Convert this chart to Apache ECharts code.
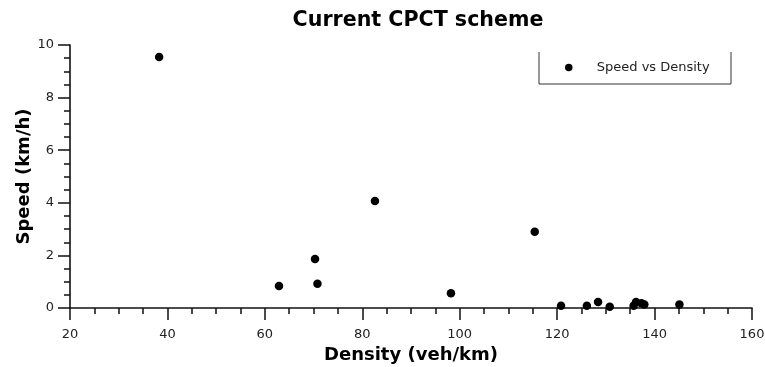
<!DOCTYPE html>
<html>
<head>
<meta charset="utf-8">
<script src="https://cdn.jsdelivr.net/npm/echarts@6/dist/echarts.min.js"></script>
<style>html,body{margin:0;padding:0;background:#fff;}#c{width:765px;height:367px;}</style>
</head>
<body>
<div id="c"></div>
<script>
const titleText = 'Current CPCT scheme';
const seriesName = 'Speed vs Density';
const xName = 'Density (veh/km)';
const yName = 'Speed (km/h)';
const density = [38.3, 62.9, 70.3, 70.8, 82.6, 98.2, 115.4, 120.8, 126.1, 128.4, 130.8, 135.7, 136.2, 137.3, 137.9, 145.1];
const speed   = [9.54, 0.84, 1.86, 0.92, 4.07, 0.56, 2.90, 0.09, 0.09, 0.23, 0.05, 0.09, 0.23, 0.18, 0.13, 0.13];

const points = density.map((d, i) => [d, speed[i]]);
const FONT = 'DejaVu Sans';
const axisColor = '#111';

const chart = echarts.init(document.getElementById('c'), null, {renderer: 'canvas'});
chart.setOption({
  animation: false,
  backgroundColor: '#fff',
  title: {
    text: titleText,
    left: 413, top: 5, textAlign: 'center',
    textStyle: {fontFamily: FONT, fontWeight: 'bold', fontSize: 20.6, color: '#000'}
  },
  legend: {
    data: [seriesName],
    left: 560, top: 56,
    icon: 'circle',
    itemWidth: 46, itemHeight: 7.5,
    itemStyle: {color: '#000', opacity: 1},
    textStyle: {fontFamily: FONT, fontSize: 13, color: '#222'}
  },
  graphic: [{
    type: 'polyline',
    shape: {points: [[539, 52], [539, 84], [731, 84], [731, 52]]},
    style: {stroke: '#333', lineWidth: 1, fill: null},
    silent: true
  }],
  grid: {left: 70, right: 13, top: 45, bottom: 59, containLabel: false, outerBoundsMode: 'none'},
  xAxis: {
    type: 'value', min: 20, max: 160, interval: 20,
    name: xName, nameLocation: 'middle', nameGap: 38, nameMoveOverlap: false,
    nameTextStyle: {fontFamily: FONT, fontWeight: 'bold', fontSize: 18, color: '#000'},
    axisLine: {show: true, onZero: false, lineStyle: {color: axisColor, width: 1.6}},
    axisTick: {show: true, inside: false, length: 12, lineStyle: {color: axisColor, width: 1.5}},
    minorTick: {show: true, splitNumber: 4, length: 6, lineStyle: {color: axisColor, width: 1.5}},
    axisLabel: {margin: 20, fontFamily: FONT, fontSize: 13, color: '#222'},
    splitLine: {show: false}
  },
  yAxis: {
    type: 'value', min: 0, max: 10, interval: 2,
    name: yName, nameLocation: 'middle', nameGap: 37, nameMoveOverlap: false,
    nameTextStyle: {fontFamily: FONT, fontWeight: 'bold', fontSize: 18, color: '#000'},
    axisLine: {show: true, onZero: false, lineStyle: {color: axisColor, width: 1.6}},
    axisTick: {show: true, inside: false, length: 12, lineStyle: {color: axisColor, width: 1.5}},
    minorTick: {show: true, splitNumber: 4, length: 6, lineStyle: {color: axisColor, width: 1.5}},
    axisLabel: {margin: 16, fontFamily: FONT, fontSize: 13, color: '#222'},
    splitLine: {show: false}
  },
  series: [{
    name: seriesName,
    type: 'scatter',
    data: points,
    symbol: 'circle',
    symbolSize: 8.5,
    itemStyle: {color: '#000', opacity: 1}
  }]
});
</script>
</body>
</html>
